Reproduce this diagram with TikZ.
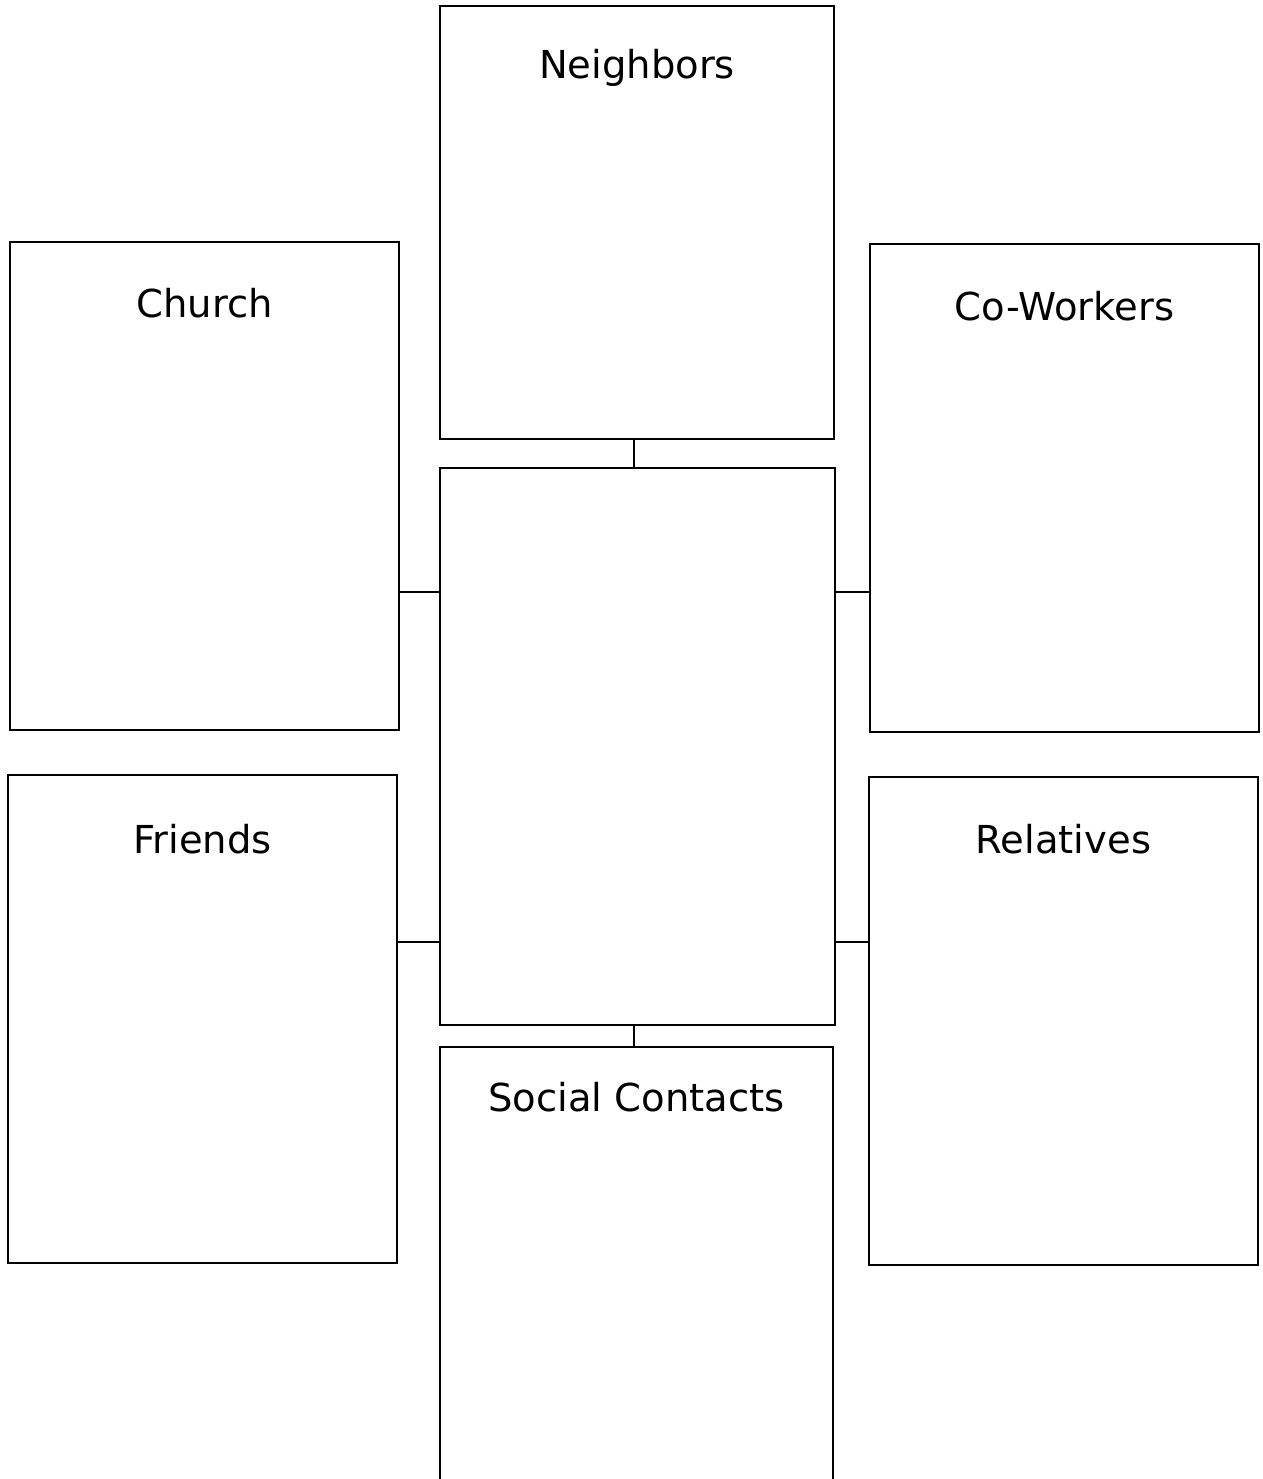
\documentclass[tikz,border=0pt]{standalone}
\usepackage{fontspec}
\setmainfont{DejaVu Sans}
\begin{document}
\begin{tikzpicture}[x=1pt, y=-1pt]
\tikzset{grpbox/.style={shape=rectangle, draw, line width=2.2pt, inner sep=0pt, minimum width=389pt, minimum height=488pt}}
\tikzset{grplbl/.style={anchor=base, inner sep=0pt, font=\fontsize{38.5}{46}\selectfont}}
\tikzset{link/.style={line width=2.2pt}}
\useasboundingbox (0,0) rectangle (1262,1479);
\clip (0,0) rectangle (1262,1479);
% middle column
\node (nb)  [grpbox, minimum width=394pt, minimum height=433pt] at (637, 222.5) {};
\node (hub) [grpbox, minimum width=395pt, minimum height=557pt] at (637.5, 746.5) {};
\node (soc) [grpbox, minimum width=393pt] at (636.5, 1291) {};
% left column
\node (chu) [grpbox] at ( 204.5,  486) {};
\node (fri) [grpbox] at ( 202.5, 1019) {};
% right column
\node (cow) [grpbox] at (1064.5,  488) {};
\node (rel) [grpbox] at (1063.5, 1021) {};
% labels
\node (nbt)  [grplbl] at ([yshift=-74pt]nb.north)  {Neighbors};
\node (chut) [grplbl] at ([yshift=-77pt]chu.north) {Church};
\node (cowt) [grplbl] at ([yshift=-78pt]cow.north) {Co-Workers};
\node (frit) [grplbl] at ([yshift=-80pt]fri.north) {Friends};
\node (relt) [grplbl] at ([yshift=-78pt]rel.north) {Relatives};
\node (soct) [grplbl] at ([yshift=-66pt]soc.north) {Social Contacts};
% connectors
\coordinate (nbc)  at ([xshift=-3pt]nb.south);
\coordinate (socc) at ([xshift=-2.5pt]soc.north);
\coordinate (chuc) at ([yshift=-106pt]chu.east);
\coordinate (cowc) at ([yshift=-104pt]cow.west);
\coordinate (fric) at ([yshift=77pt]fri.east);
\coordinate (relc) at ([yshift=79pt]rel.west);
\draw[link] (nbc) -- (nbc |- hub.north);
\draw[link] (socc) -- (socc |- hub.south);
\draw[link] (chuc) -- (chuc -| hub.west);
\draw[link] (cowc) -- (cowc -| hub.east);
\draw[link] (fric) -- (fric -| hub.west);
\draw[link] (relc) -- (relc -| hub.east);
\end{tikzpicture}
\end{document}
